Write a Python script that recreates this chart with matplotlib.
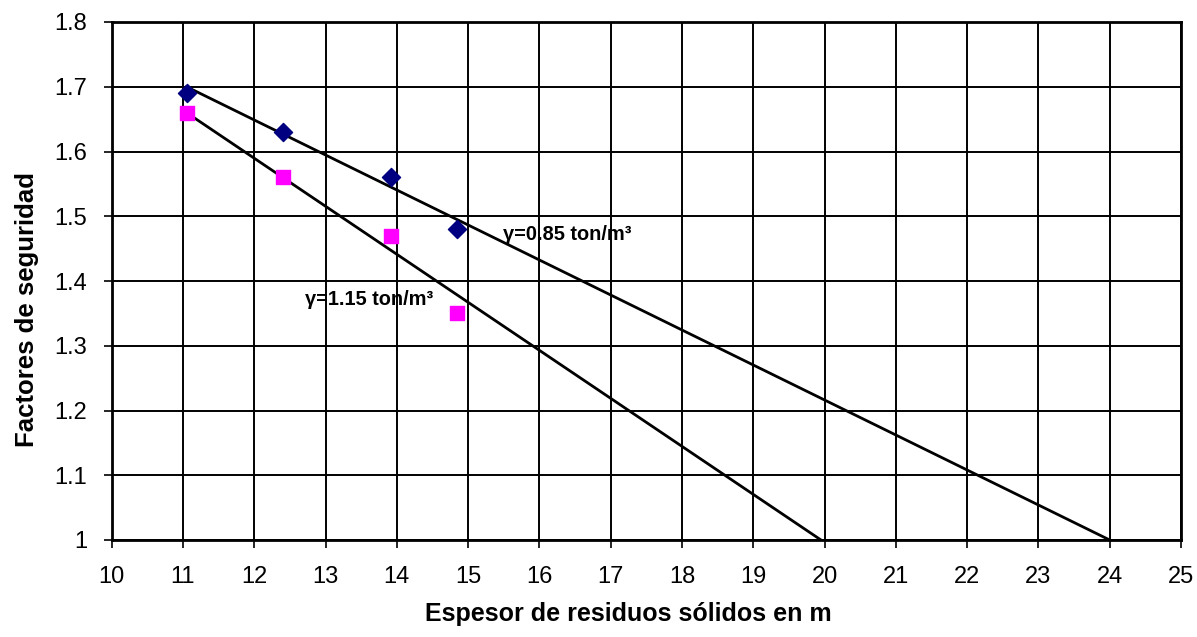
import matplotlib.pyplot as plt

plt.rcParams['font.family'] = ['Liberation Sans', 'DejaVu Sans']

# data
espesor = [11.05, 12.4, 13.92, 14.85]
fs_085 = [1.69, 1.63, 1.56, 1.48]
fs_115 = [1.66, 1.56, 1.47, 1.35]

# trend lines (start/end points)
trend_085_x = [11.05, 24.0]
trend_085_y = [1.70, 1.00]
trend_115_x = [11.05, 19.95]
trend_115_y = [1.66, 1.00]

xticks = list(range(10, 26))
yticks = [1.0, 1.1, 1.2, 1.3, 1.4, 1.5, 1.6, 1.7, 1.8]
yticklabels = ["1", "1.1", "1.2", "1.3", "1.4", "1.5", "1.6", "1.7", "1.8"]

fig = plt.figure(figsize=(11.97, 6.37), dpi=100)
ax = fig.add_axes([111.7/1197, 1 - 540/637, (1181-111.7)/1197, (540-22)/637])

ax.plot(trend_085_x, trend_085_y, color="black", lw=2, zorder=3)
ax.plot(trend_115_x, trend_115_y, color="black", lw=2, zorder=3)
ax.scatter(espesor, fs_085, marker="D", s=85, color="#000080", zorder=4)
ax.scatter(espesor, fs_115, marker="s", s=105, color="#FF00FF", zorder=4)

ax.text(15.49, 1.472, "γ=0.85 ton/m³", fontsize=14.4, fontweight="bold", va="center", zorder=5)
ax.text(12.71, 1.371, "γ=1.15 ton/m³", fontsize=14.4, fontweight="bold", va="center", zorder=5)

ax.set_xlim(10, 25)
ax.set_ylim(1.0, 1.8)
ax.set_xticks(xticks)
ax.set_yticks(yticks)
ax.set_yticklabels(yticklabels)
ax.grid(True, color="black", lw=1.4)
ax.set_axisbelow(True)
for s in ax.spines.values():
    s.set_linewidth(2)
ax.tick_params(direction="out", length=5.5, width=1.2, labelsize=17)
ax.tick_params(axis="x", pad=13)
ax.tick_params(axis="y", pad=12)

ax.set_xlabel("Espesor de residuos sólidos en m", fontsize=18, fontweight="bold")
ax.set_ylabel("Factores de seguridad", fontsize=18.5, fontweight="bold")
ax.xaxis.set_label_coords(0.483, -0.12)
ax.yaxis.set_label_coords(-0.068, 0.445)

fig.savefig("out.png", dpi=100)
